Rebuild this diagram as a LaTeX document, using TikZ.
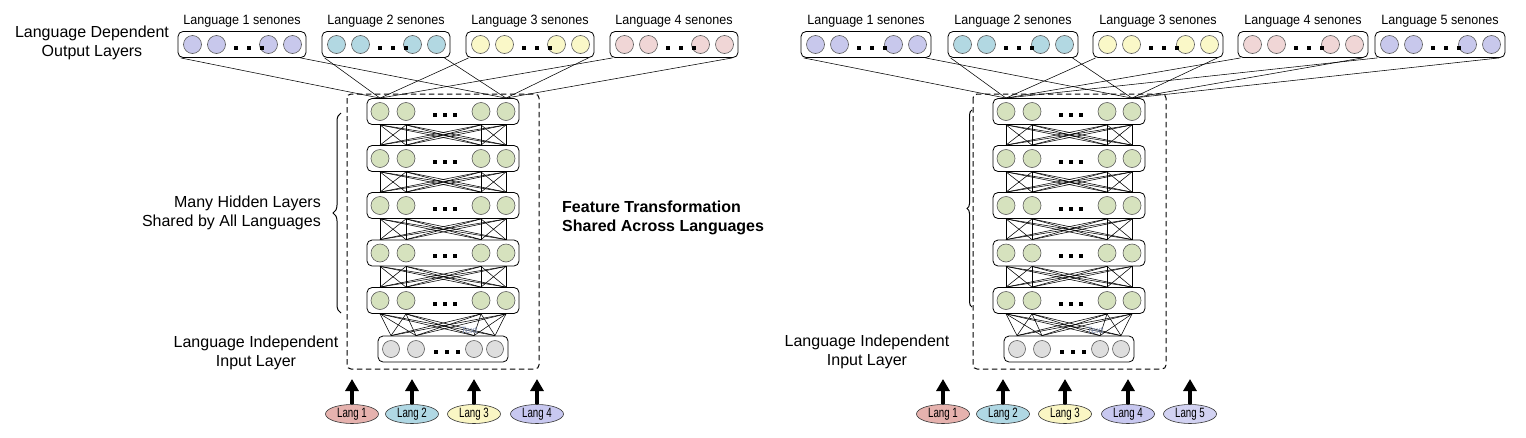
\documentclass[tikz,border=0pt]{standalone}
\usepackage{fontspec}
\setmainfont{Liberation Sans}
\usepackage{graphicx}
\usetikzlibrary{arrows.meta,calc,shapes.geometric,decorations.pathreplacing}

\definecolor{cpur}{RGB}{200,200,236}
\definecolor{cblu}{RGB}{178,216,226}
\definecolor{cyel}{RGB}{250,248,200}
\definecolor{cpink}{RGB}{240,214,214}
\definecolor{cgrn}{RGB}{214,226,190}
\definecolor{cgry}{RGB}{222,222,222}
\definecolor{lred}{RGB}{230,178,174}
\definecolor{lblu}{RGB}{176,216,228}
\definecolor{lyel}{RGB}{250,246,196}
\definecolor{lpur}{RGB}{200,200,240}
\definecolor{lpurb}{RGB}{210,210,242}
\definecolor{faintc}{RGB}{120,135,170}

\tikzset{
  layerbox/.style={draw=black, line width=0.8pt, rounded corners=5pt, fill=white, inner sep=0pt, minimum height=26pt},
  neuron/.style={circle, draw=black!65, line width=0.6pt, inner sep=0pt, minimum size=18pt},
  inneuron/.style={neuron, minimum size=17pt, fill=cgry},
  dotsq/.style={rectangle, fill=black, inner sep=0pt, minimum size=4pt},
  link/.style={line width=0.55pt, draw=black},
  dashbox/.style={draw=black, dash pattern=on 5.5pt off 3.5pt, line width=1pt, rounded corners=4pt},
  langell/.style={ellipse, draw=black!80, line width=0.6pt, minimum width=53pt, minimum height=19pt, inner sep=0pt, font=\fontsize{13.5}{15}\selectfont},
  bigarrow/.style={line width=4.5pt, -{Triangle[width=13pt,length=12pt]}},
  biglabel/.style={font=\fontsize{16}{19.5}\selectfont, inner sep=0pt},
  senlabel/.style={font=\fontsize{13.5}{15}\selectfont, inner sep=0pt},
  boldlabel/.style={font=\bfseries\fontsize{16}{19}\selectfont, inner sep=0pt, align=left},
  bracestyle/.style={decorate, decoration={brace, amplitude=8pt}, line width=1pt},
  faint/.style={font=\fontsize{9}{10}\selectfont, text=faintc, inner sep=0pt}
}

% output layer: name, left x, width, colour, label
\newcommand\OutLayer[5]{%
  \node[layerbox, minimum width=#3pt] (#1) at ({#2+#3/2}, 44.5) {};
  \foreach \xx [count=\ii] in {14.5, 38.5, {#3-37.5}, {#3-13.5}} {
    \node[neuron, fill=#4] (#1n\ii) at ({#2+\xx}, 44.5) {};
  }
  \foreach \xx [count=\ii] in {58, 71, 84} {
    \node[dotsq] (#1d\ii) at ({#2+\xx}, 48) {};
  }
  \node[senlabel] (#1lab) at ({#2+#3/2}, 21) {\scalebox{0.93}[1]{#5}};
}

% hidden layer: name, y, x offset
\newcommand\HidLayer[3]{%
  \node[layerbox, minimum width=152pt] (#1) at ({443+#3}, #2) {};
  \foreach \xx [count=\ii] in {380, 406, 481, 506} {
    \node[neuron, fill=cgrn] (#1n\ii) at ({\xx+#3}, #2) {};
  }
  \foreach \xx [count=\ii] in {435, 445, 455} {
    \node[dotsq] (#1d\ii) at ({\xx+#3}, {#2+3}) {};
  }
}

% input layer: name, x offset
\newcommand\InLayer[2]{%
  \node[layerbox, minimum width=130pt] (#1) at ({443+#2}, 349) {};
  \foreach \xx [count=\ii] in {391, 416, 474, 495} {
    \node[inneuron] (#1n\ii) at ({\xx+#2}, 349) {};
  }
  \foreach \xx [count=\ii] in {436, 447, 458} {
    \node[dotsq] (#1d\ii) at ({\xx+#2}, 352) {};
  }
}

% shared core: prefix, x offset
\newcommand\CoreNet[2]{%
  \foreach \yy [count=\kk] in {111.5, 158.5, 205.5, 253, 300.5} {
    \HidLayer{#1h\kk}{\yy}{#2}
  }
  \InLayer{#1in}{#2}
  \foreach \kk [evaluate=\kk as \nn using int(\kk+1)] in {1,...,4} {
    \foreach \ii in {1,...,4} {
      \foreach \jj in {1,...,4} {
        \draw[link] (#1h\kk n\ii |- #1h\kk.south) -- (#1h\nn n\jj |- #1h\nn.north);
      }
    }
  }
  \foreach \ii in {1,...,4} {
    \foreach \jj in {1,...,4} {
      \draw[link] (#1h5n\ii |- #1h5.south) -- (#1inn\jj |- #1in.north);
    }
  }
}

\begin{document}
\begin{tikzpicture}[x=1pt, y=-1pt]
\fill[white] (0,0) rectangle (1526,437);
\useasboundingbox (0,0) rectangle (1526,437);

% ================= LEFT PANEL =================
\node[biglabel, align=center] (Ldep) at (92,43) {Language Dependent\\Output Layers};
\OutLayer{LOa}{178}{128}{cpur}{Language 1 senones}
\OutLayer{LOb}{322}{128}{cblu}{Language 2 senones}
\OutLayer{LOc}{466}{128}{cyel}{Language 3 senones}
\OutLayer{LOd}{610}{128}{cpink}{Language 4 senones}

\draw[dashbox] (347,94) rectangle (539,369);
\CoreNet{L}{0}

\foreach \bb in {a,b,c,d} {
  \draw[link] ($(LO\bb.south west)+(3,0)$) -- (Lh1n1 |- Lh1.north);
  \draw[link] ($(LO\bb.south east)+(-6,0)$) -- (Lh1n4 |- Lh1.north);
}

\draw[bracestyle] (341,313) -- (341,113);
\node[biglabel, align=right, anchor=east] (Lmany) at (321,213) {Many Hidden Layers\\Shared by All Languages};
\node[boldlabel, anchor=west] (Lfeat) at (562,218) {Feature Transformation\\Shared Across Languages};
\node[biglabel, align=center] (Lind) at (256,353) {Language Independent\\Input Layer};
\node[faint] (Ltext) at (469,330) {Text};

\foreach \xx/\cc/\lab [count=\ii] in {352/lred/Lang 1, 412/lblu/Lang 2, 474/lyel/Lang 3, 537/lpur/Lang 4} {
  \node[langell, fill=\cc] (Llang\ii) at (\xx,414) {\scalebox{0.72}[1]{\lab}};
  \coordinate (Ltip\ii) at (\xx,379);
  \draw[bigarrow] (Llang\ii.north) -- (Ltip\ii);
}

% ================= RIGHT PANEL =================
\OutLayer{ROa}{801}{130}{cpur}{Language 1 senones}
\OutLayer{ROb}{948}{130}{cblu}{Language 2 senones}
\OutLayer{ROc}{1093}{130}{cyel}{Language 3 senones}
\OutLayer{ROd}{1238}{130}{cpink}{Language 4 senones}
\OutLayer{ROe}{1375}{130}{cpur}{Language 5 senones}

\draw[dashbox] (973,94) rectangle (1166,369);
\CoreNet{R}{626}

\foreach \bb in {a,b,c,d,e} {
  \draw[link] ($(RO\bb.south west)+(3,0)$) -- (Rh1n1 |- Rh1.north);
  \draw[link] ($(RO\bb.south east)+(-6,0)$) -- (Rh1n4 |- Rh1.north);
}

\draw[bracestyle, decoration={brace, amplitude=5pt}] (972,307) -- (972,110);
\node[biglabel, align=center] (Rind) at (867,352) {Language Independent\\Input Layer};
\node[faint] (Rtext) at (1095,330) {Text};

\foreach \xx/\cc/\lab [count=\ii] in {943/lred/Lang 1, 1003/lblu/Lang 2, 1065/lyel/Lang 3, 1128/lpur/Lang 4, 1190/lpurb/Lang 5} {
  \node[langell, fill=\cc] (Rlang\ii) at (\xx,414) {\scalebox{0.72}[1]{\lab}};
  \coordinate (Rtip\ii) at (\xx,379);
  \draw[bigarrow] (Rlang\ii.north) -- (Rtip\ii);
}
\end{tikzpicture}
\end{document}
